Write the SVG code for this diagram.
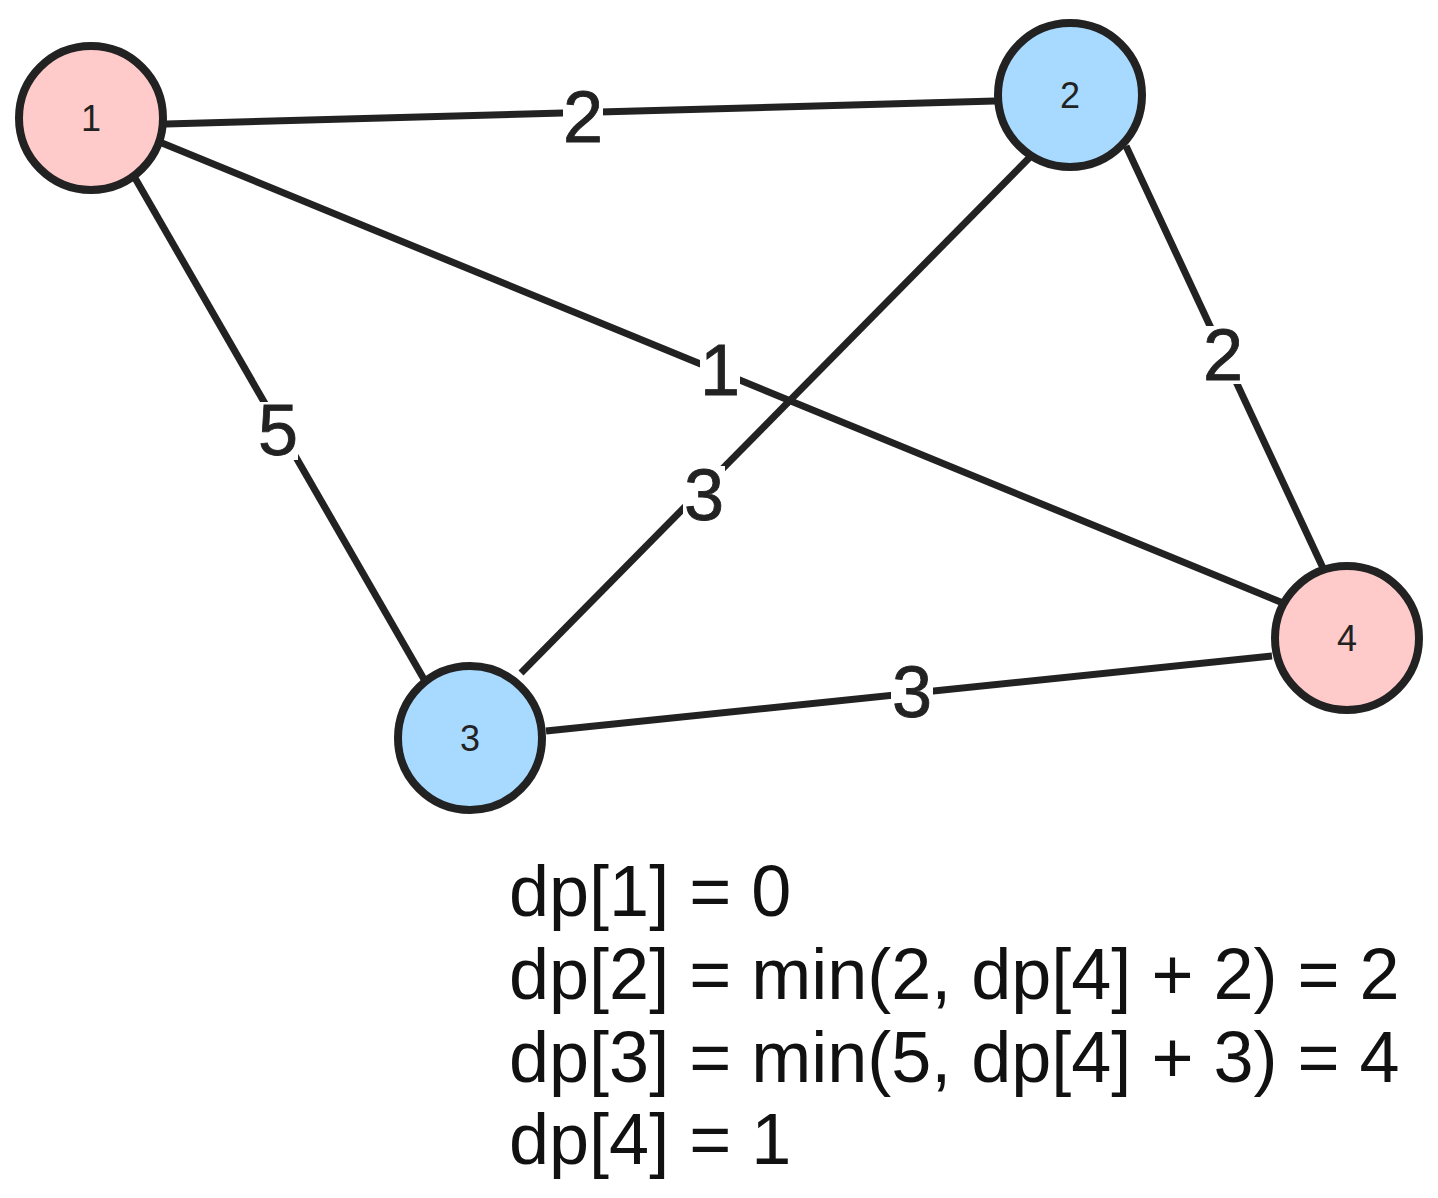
<svg xmlns="http://www.w3.org/2000/svg" width="1438" height="1198" viewBox="0 0 1438 1198">
<style>
.edge{stroke:#222;stroke-width:7;fill:none;stroke-linecap:butt}
.node{stroke:#222;stroke-width:8}
.pink{fill:#ffcaca}
.blue{fill:#a8d9fe}
.nlabel{font-family:"Liberation Sans",Arial,sans-serif;font-size:36px;fill:#222;text-anchor:middle}
.elabel{font-family:"Liberation Sans",Arial,sans-serif;font-size:72px;fill:#222;text-anchor:middle;stroke:#222;stroke-width:0.8}
.bg{fill:#fff}
.dp{font-family:"Liberation Sans",Arial,sans-serif;font-size:72px;fill:#111}
</style>
<rect width="1438" height="1198" fill="#fff"/>
<g id="edges">
<line class="edge" x1="166" y1="124" x2="995" y2="101"/>
<line class="edge" x1="162" y1="143" x2="1283" y2="603"/>
<line class="edge" x1="135" y1="178" x2="425" y2="681"/>
<line class="edge" x1="1031" y1="156" x2="521" y2="673"/>
<line class="edge" x1="1126" y1="146" x2="1323" y2="568"/>
<line class="edge" x1="546" y1="731" x2="1272" y2="656"/>
<rect class="bg" x="563" y="88" width="40" height="58"/>
<text class="elabel" x="583" y="142">2</text>
<rect class="bg" x="700" y="343" width="40" height="56"/>
<text class="elabel" x="720" y="395">1</text>
<rect class="bg" x="258" y="402" width="40" height="58"/>
<text class="elabel" x="278" y="455">5</text>
<rect class="bg" x="683" y="466" width="42" height="60"/>
<text class="elabel" x="704" y="520">3</text>
<rect class="bg" x="1202" y="326" width="42" height="58"/>
<text class="elabel" x="1223" y="380">2</text>
<rect class="bg" x="891" y="663" width="42" height="58"/>
<text class="elabel" x="912" y="717">3</text>
</g>
<g id="node1">
<circle class="node pink" cx="91" cy="118" r="72"/>
<text class="nlabel" x="91" y="131">1</text>
</g>
<g id="node2">
<circle class="node blue" cx="1070" cy="95" r="72"/>
<text class="nlabel" x="1070" y="108">2</text>
</g>
<g id="node3">
<circle class="node blue" cx="470" cy="738" r="72"/>
<text class="nlabel" x="470" y="751">3</text>
</g>
<g id="node4">
<circle class="node pink" cx="1347" cy="638" r="72"/>
<text class="nlabel" x="1347" y="651">4</text>
</g>
<g id="notes">
<text class="dp" x="509" y="916">dp[1] = 0</text>
<text class="dp" x="509" y="999">dp[2] = min(2, dp[4] + 2) = 2</text>
<text class="dp" x="509" y="1082">dp[3] = min(5, dp[4] + 3) = 4</text>
<text class="dp" x="509" y="1164">dp[4] = 1</text>
</g>
</svg>
